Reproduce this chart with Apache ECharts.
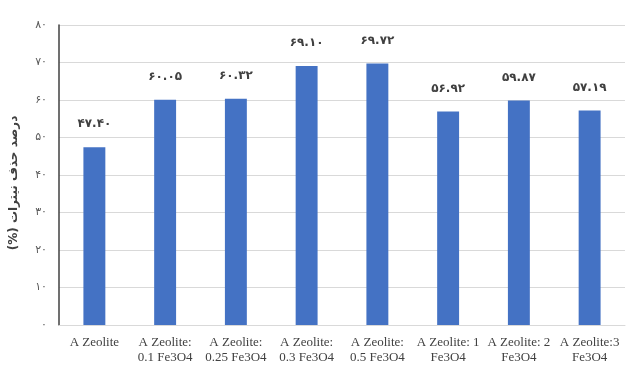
<!DOCTYPE html>
<html>
<head>
<meta charset="utf-8">
<script src="https://cdn.jsdelivr.net/npm/echarts@6/dist/echarts.min.js"></script>
<style>
  html, body { margin: 0; padding: 0; background: #fff; }
  #chart { width: 629px; height: 383px; }
</style>
</head>
<body>
<div id="chart"></div>
<script>
// Nitrate removal per sample
const categories = [
  'A Zeolite',
  'A Zeolite:\n0.1 Fe3O4',
  'A Zeolite:\n0.25 Fe3O4',
  'A Zeolite:\n0.3 Fe3O4',
  'A Zeolite:\n0.5 Fe3O4',
  'A Zeolite: 1\nFe3O4',
  'A Zeolite: 2\nFe3O4',
  'A Zeolite:3\nFe3O4'
];
const removal = [47.40, 60.05, 60.32, 69.10, 69.72, 56.92, 59.87, 57.19];
const yTicks = [0, 10, 20, 30, 40, 50, 60, 70, 80];
const yTitle = 'درصد حذف نیترات (%)';

const faDigits = '۰۱۲۳۴۵۶۷۸۹';
function toPersian(str) {
  return String(str).replace(/[0-9]/g, d => faDigits[+d]);
}
// wrap in a right-to-left embedding so the parenthesised part ends the line
const rtl = s => '\u202B' + s + '\u202C';

const chart = echarts.init(document.getElementById('chart'));
chart.setOption({
  animation: false,
  grid: { left: 54, right: 4, top: 25, bottom: 58, containLabel: false },
  xAxis: {
    type: 'category',
    data: categories,
    axisLine: { show: true, lineStyle: { color: '#d9d9d9' } },
    axisTick: { show: false },
    axisLabel: {
      interval: 0,
      color: '#404040',
      fontFamily: 'Liberation Serif',
      fontSize: 13,
      lineHeight: 15,
      margin: 10
    }
  },
  yAxis: {
    type: 'value',
    min: yTicks[0],
    max: yTicks[yTicks.length - 1],
    interval: 10,
    name: rtl(yTitle),
    nameLocation: 'middle',
    nameRotate: 90,
    nameGap: 39,
    nameTextStyle: {
      fontFamily: 'DejaVu Sans',
      fontSize: 12,
      fontWeight: 'bold',
      color: '#404040',
      padding: [0, 16, 0, 0]
    },
    axisLine: { show: true, lineStyle: { color: '#404040', width: 1.5 } },
    axisTick: { show: false },
    splitLine: { lineStyle: { color: '#d9d9d9' } },
    axisLabel: {
      color: '#595959',
      fontFamily: 'DejaVu Sans',
      fontSize: 11,
      margin: 12,
      formatter: v => toPersian(v)
    }
  },
  series: [{
    type: 'bar',
    data: removal,
    barWidth: '31%',
    itemStyle: { color: '#4472C4' },
    label: {
      show: true,
      position: 'top',
      distance: 17,
      color: '#404040',
      fontFamily: 'DejaVu Sans',
      fontWeight: 'bold',
      fontSize: 12,
      formatter: p => toPersian(p.value.toFixed(2))
    }
  }]
});
</script>
</body>
</html>
